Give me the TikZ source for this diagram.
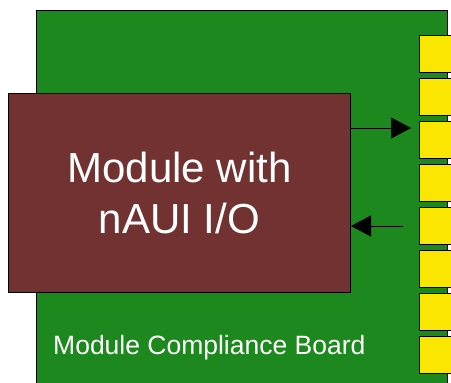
\documentclass[tikz,border=0pt]{standalone}
\usepackage{fontspec}
\setmainfont{Liberation Sans}
\usetikzlibrary{positioning}
\usetikzlibrary{arrows.meta}

\definecolor{boardgreen}{RGB}{28,136,30}
\definecolor{modmaroon}{RGB}{114,50,50}
\definecolor{padyellow}{RGB}{250,230,0}

\tikzset{
 boardbox/.style={draw=black,line width=1pt,fill=boardgreen,rectangle,inner sep=0pt},
 modbox/.style={draw=black,line width=1pt,fill=modmaroon,rectangle,inner sep=0pt,
   text=white,align=center,font=\fontsize{42}{51}\selectfont},
 padbox/.style={draw=black,line width=1.2pt,fill=padyellow,rectangle,inner sep=0pt,
   minimum width=40pt,minimum height=37pt,anchor=north west},
 flow/.style={line width=1pt,-{Triangle[length=20pt,width=21pt]}}
}

\begin{document}
\begin{tikzpicture}[x=1pt,y=-1pt]
 \useasboundingbox (0,0) rectangle (451,383);
 \clip (0,0) rectangle (451,383);
 \node[boardbox,minimum width=411pt,minimum height=385pt,anchor=north west] (board) at (36,10) {};
 \node[anchor=base west,inner sep=0pt,text=white,font=\fontsize{26.5}{30}\selectfont] (boardname) at (53,354) {Module Compliance Board};
 \foreach \i in {0,...,7}
  \node[padbox] (pad\i) at (419,35+43*\i) {};
 \node[modbox,minimum width=342pt,minimum height=199pt,anchor=north west] (module) at (8,93) {Module with\\nAUI I/O};
 \coordinate (txend) at (411,128);
 \coordinate (rxstart) at (403,226);
 \draw[flow] (module.east |- txend) -- (txend);
 \draw[flow] (rxstart) -- (module.east |- rxstart);
\end{tikzpicture}
\end{document}
